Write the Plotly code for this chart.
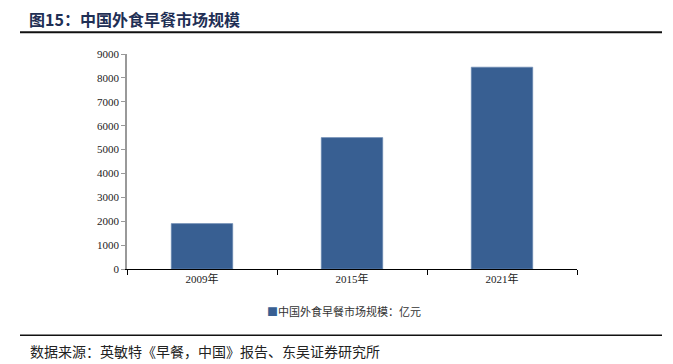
import plotly.graph_objects as go

categories = ["2009年", "2015年", "2021年"]
values = [1900, 5500, 8450]
series_name = "中国外食早餐市场规模：亿元"
y_ticks = [0, 1000, 2000, 3000, 4000, 5000, 6000, 7000, 8000, 9000]

OFF = 8  # browser body margin
W, H = 673 - OFF, 364 - OFF
L, R, T, B = 127 - OFF, 577 - OFF, 53.7 - OFF, 268.7 - OFF
pw, ph = R - L, B - T

def px(x):
    return (x - OFF - L) / pw

def py(y):
    return (B - (y - OFF)) / ph

fig = go.Figure()
fig.add_trace(go.Bar(
    x=categories, y=values, name=series_name,
    marker=dict(color="#385F92", line=dict(color="#6E8DB5", width=0.6)),
    width=0.41, showlegend=False,
))

serif = "Liberation Serif, Times New Roman, Noto Sans CJK SC, serif"
cjk = "Noto Sans CJK SC"

fig.update_layout(
    width=W, height=H,
    margin=dict(l=L, r=W - R, t=T, b=H - B),
    plot_bgcolor="white", paper_bgcolor="white",
    font=dict(family=serif, size=11, color="#222"),
    showlegend=False,
    xaxis=dict(showline=True, linecolor="#000", linewidth=1.2, ticks="outside",
               tickson="boundaries", ticklen=5, tickcolor="#000",
               tickfont=dict(family=serif, size=11, color="#222"), showgrid=False),
    yaxis=dict(range=[0, 9000], tickvals=y_ticks, showline=True, linecolor="#999",
               linewidth=1.5, ticks="outside", ticklen=4, tickcolor="#999",
               tickfont=dict(family=serif, size=11, color="#222"), showgrid=False,
               zeroline=False),
)

fig.add_annotation(text="<span style='color:#385F92'>■</span>" + series_name,
                   xref="paper", yref="paper", x=px(265), y=py(311),
                   xanchor="left", yanchor="middle", showarrow=False,
                   font=dict(family=cjk, size=11, color="#333"))
fig.add_annotation(text="<b>图15：中国外食早餐市场规模</b>", xref="paper", yref="paper",
                   x=px(28), y=py(18.5), xanchor="left", yanchor="middle", showarrow=False,
                   borderpad=0, font=dict(family=cjk, size=16, color="#1F2F55"))
fig.add_annotation(text="数据来源：英敏特《早餐，中国》报告、东吴证券研究所", xref="paper", yref="paper",
                   x=px(28), y=py(351), xanchor="left", yanchor="middle", showarrow=False,
                   font=dict(family=cjk, size=14, color="#222"))
fig.add_shape(type="line", xref="paper", yref="paper", x0=px(20), x1=px(662),
              y0=py(32), y1=py(32), line=dict(color="#111", width=2))
fig.add_shape(type="line", xref="paper", yref="paper", x0=px(20), x1=px(662),
              y0=py(335), y1=py(335), line=dict(color="#111", width=1.5))

fig.write_html("out.html")
